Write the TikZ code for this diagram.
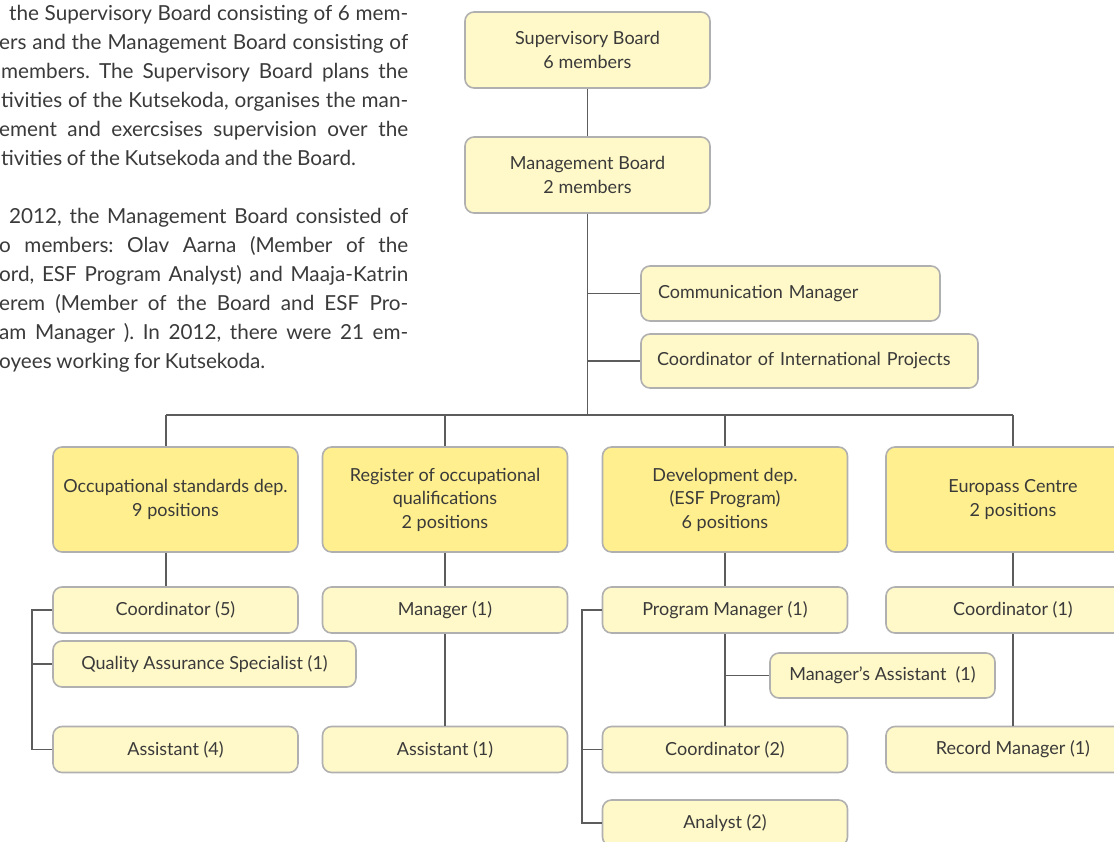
\documentclass[tikz,border=0pt]{standalone}
\usepackage{fontspec}
\setmainfont{Lato}
\usepackage{tikz}
\usetikzlibrary{positioning}
\definecolor{jaunepale}{HTML}{FFF8C8}
\definecolor{jaunedep}{HTML}{FFEF8E}
\definecolor{grisbord}{HTML}{B0B0B0}
\definecolor{grislien}{HTML}{5C5C5C}
\definecolor{gristexte}{HTML}{3A3A3A}
\frenchspacing

\begin{document}
\begin{tikzpicture}[x=1pt,y=-1pt]
% définition des paramètres
\tikzstyle boitedep=[draw=grisbord,line width=1.6pt,rounded corners=9pt,fill=jaunedep,text=gristexte,align=center,minimum height=105pt,inner sep=0pt,font=\fontsize{18}{23.5}\selectfont]
\tikzstyle boitepost=[boitedep,fill=jaunepale,minimum height=46pt]
\tikzstyle lienorg=[color=grislien,line width=1.2pt]
\tikzstyle lignetexte=[inner sep=0pt,text=gristexte,anchor=base west,font=\fontsize{20.7}{29}\selectfont]
\newcommand{\largcol}{245pt} % largeur des colonnes
\newcommand{\bordtexte}{408} % bord droit du paragraphe
\useasboundingbox (0,0) rectangle (1114,841);
% le paragraphe (coupé à gauche)
\foreach \yb/\xl/\ligne [count=\i] in {
  20/9/{the Supervisory Board consisting of 6 mem-},
  49/-1/{ers and the Management Board consisting of},
  78/1/{members. The Supervisory Board plans the},
  107/1/{tivities of the Kutsekoda, organises the man-},
  136/-1/{ement and exercsises supervision over the},
  165/1/{tivities of the Kutsekoda and the Board.\hfil},
  223/9/{2012, the Management Board consisted of},
  252/-1/{o members: Olav Aarna (Member of the},
  281/-1/{ord, ESF Program Analyst) and Maaja-Katrin},
  310/-1/{erem (Member of the Board and ESF Pro-},
  339/-1/{am Manager ). In 2012, there were 21 em-},
  368/-1/{oyees working for Kutsekoda.\hfil}}
  \node[lignetexte] (p\i) at (\xl,\yb) {\spaceskip=.22em plus .6em minus .1em\hbox to \dimexpr\bordtexte pt-\xl pt\relax{\ligne}};
% la direction
\node[boitepost,minimum width=\largcol,minimum height=76pt] (sup) at (587.5,50) {Supervisory Board\\6 members};
\node[boitepost,minimum width=\largcol,minimum height=76pt] (man) at (587.5,175) {Management Board\\2 members};
\node[boitepost,minimum width=299pt,minimum height=55pt,text width=265pt,align=left] (comm) at (790.5,293.5) {Communication Manager};
\node[boitepost,minimum width=337pt,minimum height=54pt,text width=305pt,align=left] (intl) at (809.5,361) {Coordinator of International Projects};
% les départements
\node[boitedep,minimum width=\largcol] (occ) at (175.5,499.5) {Occupational standards dep.\\9 positions};
\node[boitedep,minimum width=\largcol] (reg) at (445,499.5) {Register of occupational\\qualifications\\2 positions};
\node[boitedep,minimum width=\largcol] (dev) at (725,499.5) {Development dep.\\(ESF Program)\\6 positions};
\node[boitedep,minimum width=254pt] (euro) at (1013,499.5) {Europass Centre\\2 positions};
% les postes
\node[boitepost,minimum width=\largcol] (occcoord) at (175.5,610) {Coordinator (5)};
\node[boitepost,minimum width=303pt] (occqual) at (204.5,664) {Quality Assurance Specialist (1)};
\node[boitepost,minimum width=\largcol] (occasst) at (175.5,749.5) {Assistant (4)};
\node[boitepost,minimum width=\largcol] (regman) at (445,610) {Manager (1)};
\node[boitepost,minimum width=\largcol] (regasst) at (445,749.5) {Assistant (1)};
\node[boitepost,minimum width=\largcol] (devprog) at (725,610) {Program Manager (1)};
\node[boitepost,minimum width=225pt,minimum height=45pt] (devassm) at (882.5,675.5) {Manager’s Assistant\ \ (1)};
\node[boitepost,minimum width=\largcol] (devcoord) at (725,749.5) {Coordinator (2)};
\node[boitepost,minimum width=\largcol] (devanal) at (725,823) {Analyst (2)};
\node[boitepost,minimum width=254pt] (eurocoord) at (1013,610) {Coordinator (1)};
\node[boitepost,minimum width=254pt] (eurorec) at (1013,749.5) {Record Manager (1)};
% les liens
\coordinate (bus) at (587.5,415);
\coordinate (railocc) at (32,610);
\coordinate (raildev) at (582,610);
\draw[lienorg] (sup) -- (man);
\draw[lienorg] (man.south) -- (bus);
\draw[lienorg] (comm.west -| bus) -- (comm.west);
\draw[lienorg] (intl.west -| bus) -- (intl.west);
\foreach \x/\d/\s in {166/occ/occcoord,445/reg/regman,725/dev/devprog,1013/euro/eurocoord}{
  \coordinate (j) at (\x,415);
  \draw[lienorg] (j) -- (j |- \d.north);
  \draw[lienorg] (j |- \d.south) -- (j |- \s.north);
}
\draw[lienorg] (166,415) coordinate (jg) (jg) -- (1013,415);
\draw[lienorg] (regman) -- (regasst);
\draw[lienorg] (devprog) -- (devcoord);
\draw[lienorg] (devassm.west -| devprog.south) -- (devassm.west);
\draw[lienorg] (eurocoord) -- (eurorec);
\draw[lienorg] (occcoord.west) -- (railocc) -- (railocc |- occasst.west) -- (occasst.west);
\draw[lienorg] (occqual.west -| railocc) -- (occqual.west);
\draw[lienorg] (devprog.west) -- (raildev) -- (raildev |- devanal.west) -- (devanal.west);
\draw[lienorg] (devcoord.west -| raildev) -- (devcoord.west);
\end{tikzpicture}
\end{document}
